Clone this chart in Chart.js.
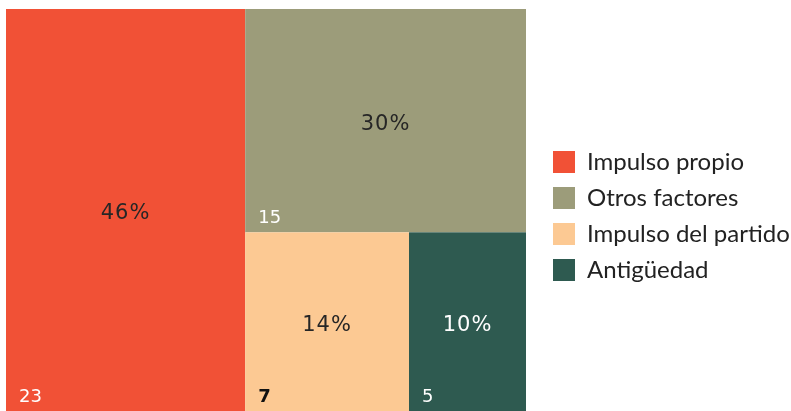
<!DOCTYPE html>
<html><head><meta charset="utf-8">
<script src="https://cdn.jsdelivr.net/npm/chart.js@4"></script>
<style>html,body{margin:0;padding:0;background:#fff}#wrap{width:791px;height:411px}</style>
</head><body><div id="wrap"><canvas id="c" width="791" height="411"></canvas></div>
<script>
const categories = ["Impulso propio","Otros factores","Impulso del partido","Antigüedad"];
const values = [23, 15, 7, 5];
const colors = ["#F15136","#9C9C7A","#FCC993","#2E5A50"];
const pctColors = ["#262626","#262626","#262626","#FFFFFF"];
const valColors = ["#FFFFFF","#FFFFFF","#111111","#FFFFFF"];
const valWeights = ["normal","normal","bold","normal"];

function worst(row, side){
  const s = row.reduce((a,b)=>a+b,0);
  let w = 0;
  for (const r of row){ const a = Math.max(side*side*r/(s*s), (s*s)/(side*side*r)); if(a>w) w=a; }
  return w;
}
function squarify(items, x, y, w, h){
  const out = [];
  let rest = items.slice();
  while(rest.length){
    const side = Math.min(w,h);
    let row = [rest[0]];
    let i = 1;
    while(i < rest.length && worst(row.concat([rest[i]]).map(o=>o.a), side) <= worst(row.map(o=>o.a), side)){ row.push(rest[i]); i++; }
    rest = rest.slice(i);
    const s = row.reduce((a,o)=>a+o.a,0);
    if (w >= h){
      const cw = s / h; let cy = y;
      for (const o of row){ const ch = o.a / cw; out.push({i:o.i,x:x,y:cy,w:cw,h:ch}); cy += ch; }
      x += cw; w -= cw;
    } else {
      const rh = s / w; let cx = x;
      for (const o of row){ const rw = o.a / rh; out.push({i:o.i,x:cx,y:y,w:rw,h:rh}); cx += rw; }
      y += rh; h -= rh;
    }
  }
  return out;
}

const treemapPlugin = {
  id:'treemap',
  beforeInit(chart){
    const lg = chart.legend;
    if (lg){
      const orig = lg.fit.bind(lg);
      lg.fit = function(){ orig(); this.width = 265; };
    }
  },
  afterLayout(chart){
    if (chart.legend){ chart.legend.left += 15; chart.legend.top += 6; chart.legend.bottom += 6; }
  },
  beforeDatasetsDraw(chart){
    const xs = chart.scales.x, ys = chart.scales.y;
    const x0 = xs.getPixelForValue(0), x1 = xs.getPixelForValue(1);
    const y0 = ys.getPixelForValue(1), y1 = ys.getPixelForValue(0);
    const W = x1-x0, H = y1-y0;
    const total = values.reduce((a,b)=>a+b,0);
    const items = values.map((v,i)=>({i, a: v/total*W*H})).sort((a,b)=>b.a-a.a);
    const rects = squarify(items, x0, y0, W, H);
    const ctx = chart.ctx;
    ctx.save();
    for (const r of rects){
      ctx.fillStyle = colors[r.i];
      ctx.fillRect(r.x, r.y, r.w, r.h);
    }
    for (const r of rects){
      const pct = Math.round(values[r.i]/total*100) + "%";
      ctx.fillStyle = pctColors[r.i];
      ctx.font = "21px 'DejaVu Sans'";
      try { ctx.letterSpacing = "1px"; } catch(e){}
      ctx.textAlign = "center"; ctx.textBaseline = "middle";
      ctx.fillText(pct, r.x + r.w/2, r.y + r.h/2 + 4);
      try { ctx.letterSpacing = "0px"; } catch(e){}
      ctx.fillStyle = valColors[r.i];
      ctx.font = valWeights[r.i] + " 18px 'DejaVu Sans'";
      ctx.textAlign = "left"; ctx.textBaseline = "alphabetic";
      ctx.fillText(String(values[r.i]), r.x + 13, r.y + r.h - 9);
    }
    ctx.restore();
  }
};

new Chart(document.getElementById('c'), {
  type:'scatter',
  data:{ datasets: categories.map((c,i)=>({label:c, data:[], backgroundColor:colors[i], borderColor:colors[i], borderWidth:0})) },
  options:{
    responsive:false, animation:false,
    layout:{padding:{left:6, top:9, right:0, bottom:0}},
    scales:{ x:{type:'linear', min:0, max:1, display:false}, y:{type:'linear', min:0, max:1, display:false} },
    plugins:{
      tooltip:{enabled:false},
      legend:{ position:'right', align:'center',
        labels:{ boxWidth:22, boxHeight:22, padding:12, color:'#222', font:{family:'Lato', size:24, lineHeight:1} } }
    }
  },
  plugins:[treemapPlugin]
});
</script></body></html>
